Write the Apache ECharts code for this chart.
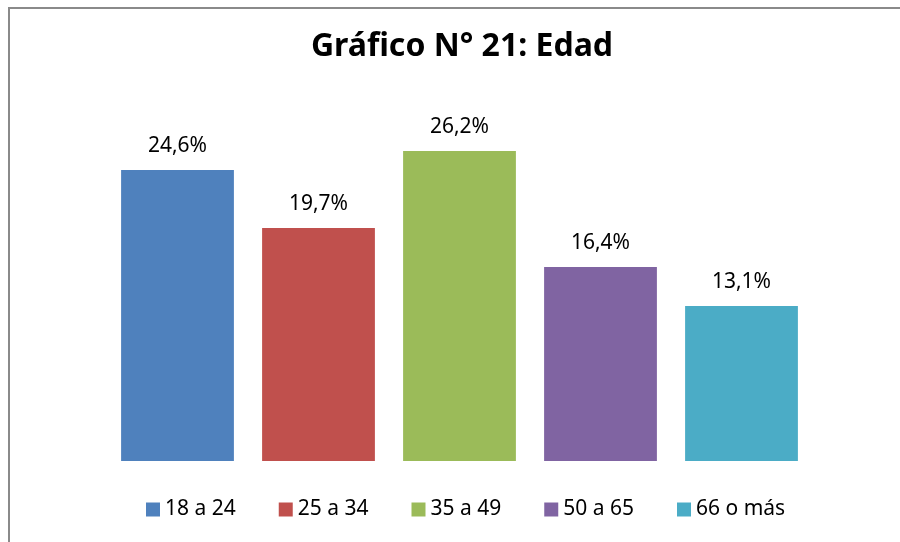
<!DOCTYPE html>
<html>
<head>
<meta charset="utf-8">
<script src="https://cdn.jsdelivr.net/npm/echarts@6/dist/echarts.min.js"></script>
<style>html,body{margin:0;padding:0;background:#fff}#c{width:900px;height:542px}</style>
</head>
<body>
<div id="c"></div>
<script>
const categories = ['18 a 24', '25 a 34', '35 a 49', '50 a 65', '66 o más'];
const values = [24.6, 19.7, 26.2, 16.4, 13.1];
const colors = ['#4F81BD', '#C0504D', '#9BBB59', '#8064A2', '#4BACC6'];
const titleText = 'Gráfico N° 21: Edad';

const series = categories.map((name, i) => ({
  name: name,
  type: 'bar',
  stack: 'all',
  barCategoryGap: '20%',
  data: categories.map((c, j) => j === i ? values[i] : null),
  itemStyle: { color: colors[i] },
  label: {
    show: true,
    position: 'top',
    distance: 13,
    fontFamily: 'Noto Sans',
    fontSize: 21,
    color: '#000',
    formatter: p => p.value.toFixed(1).replace('.', ',') + '%'
  }
}));

const chart = echarts.init(document.getElementById('c'), null, { renderer: 'canvas' });
chart.setOption({
  animation: false,
  backgroundColor: '#fff',
  title: {
    text: titleText,
    left: 457, top: 26, textAlign: 'center',
    textStyle: { fontFamily: 'Noto Sans', fontWeight: 'bold', fontSize: 32, color: '#000' }
  },
  graphic: [
    { type: 'rect', shape: { x: 9, y: 8, width: 1000, height: 700 }, style: { fill: 'none', stroke: '#8a8a8a', lineWidth: 2 }, z: 100 },
    { type: 'text', left: -2, top: -17, style: { text: '1. Edad', fontFamily: 'Noto Sans', fontWeight: 'bold', fontSize: 20, fill: '#000' } }
  ],
  legend: {
    data: categories,
    left: 141, top: 494,
    itemWidth: 14, itemHeight: 14, itemGap: 43,
    icon: 'rect',
    textStyle: { fontFamily: 'Noto Sans', fontSize: 21, color: '#000' }
  },
  grid: { left: 107, right: 88, top: 106, bottom: 81, containLabel: false },
  xAxis: {
    type: 'category', data: categories,
    axisLine: { show: false }, axisTick: { show: false }, axisLabel: { show: false }
  },
  yAxis: {
    type: 'value', min: 0, max: 30,
    axisLine: { show: false }, axisTick: { show: false }, axisLabel: { show: false }, splitLine: { show: false }
  },
  series: series
});
</script>
</body>
</html>
